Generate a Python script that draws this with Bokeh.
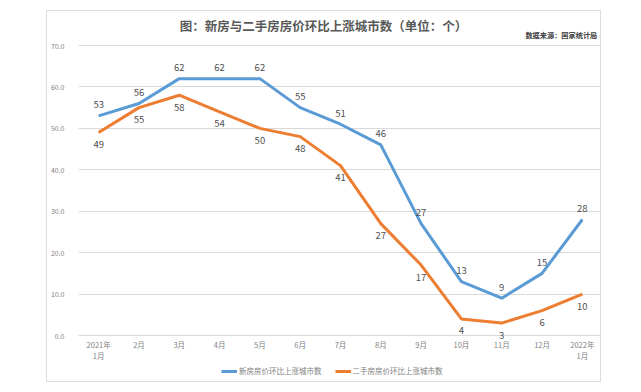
from bokeh.plotting import figure
from bokeh.models import (ColumnDataSource, FixedTicker, NumeralTickFormatter, Legend,
                          LegendItem, Spacer, Range1d)
from bokeh.layouts import row, column
from bokeh.core.properties import value
from bokeh.embed import file_html
from bokeh.resources import INLINE

months = ["2021年\n1月", "2月", "3月", "4月", "5月", "6月", "7月", "8月", "9月",
          "10月", "11月", "12月", "2022年\n1月"]
new_house = [53, 56, 62, 62, 62, 55, 51, 46, 27, 13, 9, 15, 28]
second_house = [49, 55, 58, 54, 50, 48, 41, 27, 17, 4, 3, 6, 10]
y_ticks = [0, 10, 20, 30, 40, 50, 60, 70]

title_text = "图：新房与二手房房价环比上涨城市数（单位：个）"
source_text = "数据来源：国家统计局"
name_new = "新房房价环比上涨城市数"
name_second = "二手房房价环比上涨城市数"

FONT = "Noto Sans CJK SC"
BLUE = "#5B9BD5"
ORANGE = "#ED7D31"

src = ColumnDataSource(dict(
    m=months, new=new_house, sec=second_house,
    new_lbl=[str(v) for v in new_house], sec_lbl=[str(v) for v in second_house],
))

# frame spans the full canvas height; values 0..70 occupy 290 px
PX = 290 / 70.0
def yv(page_y):
    return (335 - page_y) / PX

p = figure(x_range=months, y_range=Range1d(yv(383), yv(11)), width=555, height=372,
           output_backend="svg", toolbar_location=None,
           min_border_left=29, min_border_right=0, min_border_top=0, min_border_bottom=0)
p.styles = {"border": "1px solid #DDDDDD"}
p.outline_line_color = None
p.background_fill_color = "white"
p.border_fill_color = "white"

p.xgrid.grid_line_color = None
p.ygrid.grid_line_color = "#D9D9D9"
p.ygrid.ticker = FixedTicker(ticks=y_ticks)

p.yaxis.ticker = FixedTicker(ticks=y_ticks)
p.yaxis.formatter = NumeralTickFormatter(format="0.0")
p.yaxis.axis_line_color = None
p.yaxis.major_tick_line_color = None
p.yaxis.minor_tick_line_color = None
p.yaxis.major_label_text_font = FONT
p.yaxis.major_label_text_font_size = "7px"
p.yaxis.major_label_text_color = "#808080"
p.yaxis.major_label_standoff = 8

p.xaxis.visible = False

r1 = p.line("m", "new", source=src, line_color=BLUE, line_width=3, line_join="round")
r2 = p.line("m", "sec", source=src, line_color=ORANGE, line_width=3, line_join="round")

p.text("m", "new", text="new_lbl", source=src, y_offset=-11, text_align="center",
       text_baseline="middle", text_font=value(FONT), text_font_size="9.5px", text_color="#505050")
p.text("m", "sec", text="sec_lbl", source=src, y_offset=12, text_align="center",
       text_baseline="middle", text_font=value(FONT), text_font_size="9.5px", text_color="#505050")

# category labels under the zero line
p.text(x="m", y=value(yv(338)), text="m", source=src, text_align="center",
       text_baseline="top", text_font=value(FONT), text_font_size="7.5px",
       text_color="#7F7F7F", text_line_height=1.0)

p.text(x=[6.08], y=[yv(25)], text=[title_text], text_align="center", text_baseline="middle",
       text_font=value(FONT), text_font_size="12.5px", text_font_style="bold",
       text_color="#595959")
p.text(x=[12.87], y=[yv(34)], text=[source_text], text_align="right", text_baseline="middle",
       text_font=value(FONT), text_font_size="7.2px", text_font_style="bold",
       text_color="#404040")

legend = Legend(items=[LegendItem(label=name_new, renderers=[r1]),
                       LegendItem(label=name_second, renderers=[r2])],
                location=(143, 7), orientation="horizontal",
                padding=0, margin=0, spacing=13, glyph_width=16, glyph_height=8,
                label_standoff=2, label_height=8, label_text_font=FONT,
                label_text_font_size="7.5px", label_text_color="#7F7F7F",
                border_line_color=None, background_fill_alpha=0)
p.add_layout(legend)

layout = column(Spacer(height=10), row(Spacer(width=46), p))
open("out.html", "w").write(file_html(layout, INLINE))
